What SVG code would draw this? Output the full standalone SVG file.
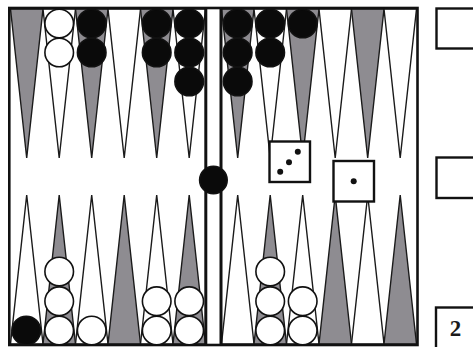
<svg xmlns="http://www.w3.org/2000/svg" width="473" height="347" viewBox="0 0 473 347">
<defs>
<style>
.pt{stroke:#1a1a1a;stroke-width:1.4;stroke-linejoin:miter}
.g{fill:#8e8c91}
.w{fill:#ffffff}
.ck{stroke:#111;stroke-width:1.6}
.wc{fill:#ffffff}
.bc{fill:#0a0a0a}
.frame{fill:none;stroke:#111;stroke-width:2.6}
.box{fill:#ffffff;stroke:#111;stroke-width:2.4}
.pip{fill:#111}
.lbl{font-family:"Liberation Serif","DejaVu Serif",serif;font-weight:bold;font-size:23px;fill:#1a1a1a}
</style>
</defs>
<rect x="0" y="0" width="473" height="347" fill="#ffffff"/>
<g id="points">
<polygon class="pt g" points="10.5,9 43,9 26.7,158"/>
<polygon class="pt w" points="43,9 75.5,9 59.2,158"/>
<polygon class="pt g" points="75.5,9 108,9 91.7,158"/>
<polygon class="pt w" points="108,9 140.5,9 124.2,158"/>
<polygon class="pt g" points="140.5,9 173,9 156.7,158"/>
<polygon class="pt w" points="173,9 205.5,9 189.2,158"/>
<polygon class="pt g" points="221.5,9 254,9 237.7,158"/>
<polygon class="pt w" points="254,9 286.5,9 270.2,158"/>
<polygon class="pt g" points="286.5,9 319,9 302.7,158"/>
<polygon class="pt w" points="319,9 351.5,9 335.2,158"/>
<polygon class="pt g" points="351.5,9 384,9 367.7,158"/>
<polygon class="pt w" points="384,9 416.5,9 400.2,158"/>
<polygon class="pt w" points="10.5,344 43,344 26.7,195"/>
<polygon class="pt g" points="43,344 75.5,344 59.2,195"/>
<polygon class="pt w" points="75.5,344 108,344 91.7,195"/>
<polygon class="pt g" points="108,344 140.5,344 124.2,195"/>
<polygon class="pt w" points="140.5,344 173,344 156.7,195"/>
<polygon class="pt g" points="173,344 205.5,344 189.2,195"/>
<polygon class="pt w" points="221.5,344 254,344 237.7,195"/>
<polygon class="pt g" points="254,344 286.5,344 270.2,195"/>
<polygon class="pt w" points="286.5,344 319,344 302.7,195"/>
<polygon class="pt g" points="319,344 351.5,344 335.2,195"/>
<polygon class="pt w" points="351.5,344 384,344 367.7,195"/>
<polygon class="pt g" points="384,344 416.5,344 400.2,195"/>
</g>
<g id="board">
<rect class="frame" x="9.3" y="8" width="408.2" height="337"/>
<line x1="205.8" y1="8" x2="205.8" y2="345" stroke="#111" stroke-width="3"/>
<line x1="221" y1="8" x2="221" y2="345" stroke="#111" stroke-width="3"/>
</g>
<g id="checkers">
<circle class="ck wc" cx="59.2" cy="23.5" r="14.3"/>
<circle class="ck wc" cx="59.2" cy="52.5" r="14.3"/>
<circle class="ck bc" cx="91.7" cy="23.5" r="14.3"/>
<circle class="ck bc" cx="91.7" cy="52.5" r="14.3"/>
<circle class="ck bc" cx="156.7" cy="23.5" r="14.3"/>
<circle class="ck bc" cx="156.7" cy="52.5" r="14.3"/>
<circle class="ck bc" cx="189.2" cy="23.5" r="14.3"/>
<circle class="ck bc" cx="189.2" cy="52.5" r="14.3"/>
<circle class="ck bc" cx="189.2" cy="81.5" r="14.3"/>
<circle class="ck bc" cx="237.7" cy="23.5" r="14.3"/>
<circle class="ck bc" cx="237.7" cy="52.5" r="14.3"/>
<circle class="ck bc" cx="237.7" cy="81.5" r="14.3"/>
<circle class="ck bc" cx="270.2" cy="23.5" r="14.3"/>
<circle class="ck bc" cx="270.2" cy="52.5" r="14.3"/>
<circle class="ck bc" cx="302.7" cy="23.5" r="14.3"/>
<circle class="ck bc" cx="213.4" cy="180" r="13.8"/>
<circle class="ck bc" cx="26.3" cy="330.5" r="14.3"/>
<circle class="ck wc" cx="59.2" cy="271.5" r="14.3"/>
<circle class="ck wc" cx="59.2" cy="301.2" r="14.3"/>
<circle class="ck wc" cx="59.2" cy="330.5" r="14.3"/>
<circle class="ck wc" cx="91.7" cy="330.5" r="14.3"/>
<circle class="ck wc" cx="156.7" cy="301.2" r="14.3"/>
<circle class="ck wc" cx="156.7" cy="330.5" r="14.3"/>
<circle class="ck wc" cx="189.2" cy="301.2" r="14.3"/>
<circle class="ck wc" cx="189.2" cy="330.5" r="14.3"/>
<circle class="ck wc" cx="270.2" cy="271.5" r="14.3"/>
<circle class="ck wc" cx="270.2" cy="301.2" r="14.3"/>
<circle class="ck wc" cx="270.2" cy="330.5" r="14.3"/>
<circle class="ck wc" cx="302.7" cy="301.2" r="14.3"/>
<circle class="ck wc" cx="302.7" cy="330.5" r="14.3"/>
</g>
<g id="die-three">
<rect class="box" x="269.5" y="141.5" width="40.5" height="40.5"/>
<circle class="pip" cx="297.8" cy="151.8" r="3"/>
<circle class="pip" cx="289" cy="162.3" r="3"/>
<circle class="pip" cx="280.2" cy="171.7" r="3"/>
</g>
<g id="die-one">
<rect class="box" x="333.5" y="161" width="40.5" height="40.5"/>
<circle class="pip" cx="353.7" cy="181.3" r="3"/>
</g>
<g id="box-top">
<rect class="box" x="436.5" y="8.5" width="40" height="40"/>
</g>
<g id="box-middle">
<rect class="box" x="436.5" y="157.5" width="40" height="40.5"/>
</g>
<g id="cube">
<rect class="box" x="436" y="307.5" width="40" height="45"/>
<text class="lbl" x="455.5" y="336" text-anchor="middle">2</text>
</g>
</svg>
